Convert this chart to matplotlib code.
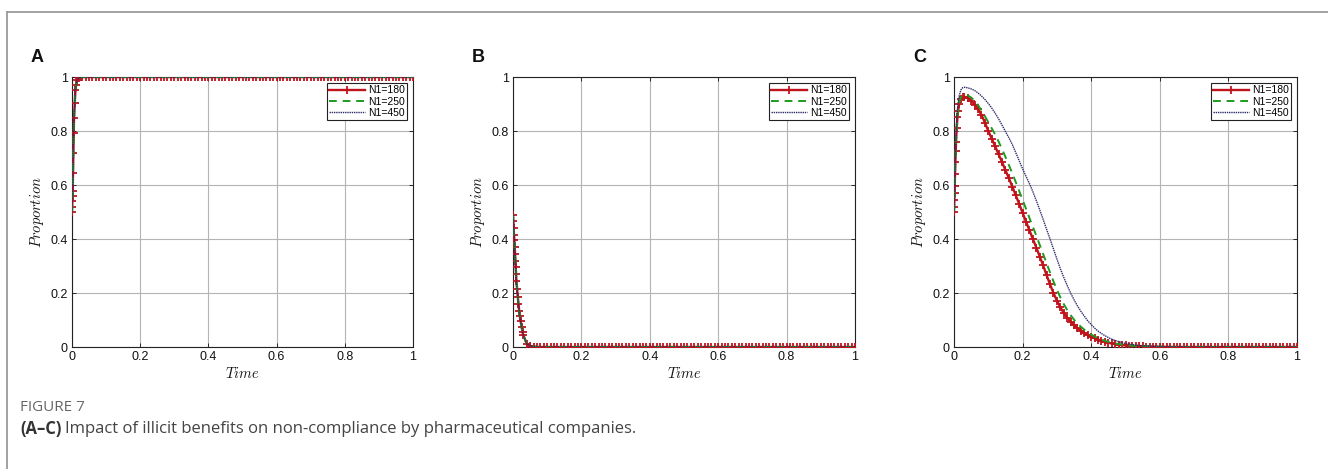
import matplotlib
matplotlib.use("Agg")
import matplotlib.pyplot as plt
from matplotlib.lines import Line2D

plt.rcParams['font.family'] = ['Liberation Sans', 'DejaVu Sans']
plt.rcParams['mathtext.fontset'] = 'cm'

# ---------------- data ----------------
series_labels = ["N1=180", "N1=250", "N1=450"]
panel_letters = ["A", "B", "C"]
ticks = [0, 0.2, 0.4, 0.6, 0.8, 1]
tick_labels = ["0", "0.2", "0.4", "0.6", "0.8", "1"]

tail_t = [0.04, 0.05, 0.06, 0.07, 0.08, 0.09, 0.10, 0.11, 0.12, 0.13, 0.14, 0.15, 0.16, 0.17, 0.18, 0.19,
          0.20, 0.21, 0.22, 0.23, 0.24, 0.25, 0.26, 0.27, 0.28, 0.29, 0.30, 0.31, 0.32, 0.33, 0.34, 0.35,
          0.36, 0.37, 0.38, 0.39, 0.40, 0.41, 0.42, 0.43, 0.44, 0.45, 0.46, 0.47, 0.48, 0.49, 0.50, 0.51,
          0.52, 0.53, 0.54, 0.55, 0.56, 0.57, 0.58, 0.59, 0.60, 0.61, 0.62, 0.63, 0.64, 0.65, 0.66, 0.67,
          0.68, 0.69, 0.70, 0.71, 0.72, 0.73, 0.74, 0.75, 0.76, 0.77, 0.78, 0.79, 0.80, 0.81, 0.82, 0.83,
          0.84, 0.85, 0.86, 0.87, 0.88, 0.89, 0.90, 0.91, 0.92, 0.93, 0.94, 0.95, 0.96, 0.97, 0.98, 0.99, 1.00]

# Panel A: time points and proportions (all three N1 values coincide)
time_A = [0, 0.0005, 0.001, 0.0015, 0.002, 0.003, 0.004, 0.005, 0.006, 0.008, 0.010, 0.012, 0.015,
          0.020, 0.025, 0.030] + tail_t
A_180 = [0.50, 0.52, 0.54, 0.56, 0.578, 0.644, 0.718, 0.792, 0.847, 0.902, 0.95, 0.97, 0.989,
         0.997, 0.999, 1.0] + [1.0] * 97
A_250 = list(A_180)
A_450 = list(A_180)

# Panel B
time_B = [0, 0.001, 0.002, 0.003, 0.004, 0.005, 0.006, 0.007, 0.008, 0.009, 0.010, 0.012, 0.014,
          0.016, 0.018, 0.020, 0.022, 0.025, 0.028, 0.030] + tail_t
B_180 = [0.49, 0.465, 0.44, 0.415, 0.395, 0.37, 0.345, 0.32, 0.295, 0.27, 0.245, 0.215, 0.185,
         0.16, 0.135, 0.115, 0.098, 0.075, 0.055, 0.045,
         0.012, 0.004, 0.0015, 0.0005] + [0.0] * 93
B_250 = list(B_180)
B_450 = list(B_180)

# Panel C
time_C = [0, 0.0005, 0.001, 0.0015, 0.002, 0.003, 0.004, 0.005, 0.006, 0.008, 0.010, 0.012, 0.015,
          0.020, 0.025, 0.030] + tail_t
C_180 = [0.50, 0.52, 0.545, 0.57, 0.595, 0.64, 0.685, 0.725, 0.76, 0.81, 0.85, 0.875, 0.90, 0.918, 0.926, 0.927,
         0.922, 0.912, 0.898, 0.88, 0.86, 0.831, 0.80, 0.772, 0.743, 0.714, 0.685, 0.655, 0.625, 0.594, 0.562,
         0.53, 0.497, 0.464, 0.432, 0.40, 0.368, 0.335, 0.302, 0.266, 0.232, 0.20, 0.172, 0.147, 0.126, 0.108,
         0.093, 0.080, 0.069, 0.059, 0.051, 0.044, 0.038, 0.032, 0.027, 0.023, 0.019, 0.016, 0.013, 0.011,
         0.009, 0.0075, 0.006, 0.005, 0.004, 0.0033, 0.0027, 0.0022, 0.0018, 0.0015, 0.0012, 0.001, 0.0008,
         0.0006, 0.0005, 0.0004, 0.0003, 0.0002] + [0.0] * 35
C_250 = [0.50, 0.52, 0.545, 0.57, 0.60, 0.645, 0.69, 0.73, 0.765, 0.815, 0.855, 0.88, 0.905, 0.925, 0.933, 0.935,
         0.932, 0.924, 0.912, 0.896, 0.876, 0.855, 0.832, 0.81, 0.787, 0.761, 0.733, 0.704, 0.674, 0.643, 0.611,
         0.578, 0.545, 0.512, 0.478, 0.445, 0.412, 0.378, 0.344, 0.31, 0.276, 0.243, 0.212, 0.184, 0.159, 0.137,
         0.118, 0.101, 0.087, 0.075, 0.064, 0.054, 0.046, 0.039, 0.033, 0.028, 0.023, 0.019, 0.016, 0.013,
         0.011, 0.009, 0.0075, 0.006, 0.005, 0.004, 0.0033, 0.0027, 0.0022, 0.0018, 0.0015, 0.0012, 0.001,
         0.0008, 0.0006, 0.0005, 0.0004, 0.0003] + [0.0] * 35
C_450 = [0.50, 0.522, 0.548, 0.575, 0.605, 0.655, 0.70, 0.745, 0.785, 0.84, 0.88, 0.905, 0.93, 0.952, 0.96, 0.962,
         0.96, 0.956, 0.95, 0.941, 0.93, 0.917, 0.902, 0.885, 0.866, 0.845, 0.822, 0.798, 0.775, 0.75, 0.72,
         0.69, 0.66, 0.632, 0.605, 0.575, 0.542, 0.508, 0.472, 0.436, 0.40, 0.363, 0.326, 0.29, 0.258, 0.228,
         0.20, 0.175, 0.152, 0.132, 0.114, 0.097, 0.083, 0.070, 0.059, 0.050, 0.042, 0.035, 0.029, 0.024,
         0.020, 0.016, 0.013, 0.011, 0.009, 0.0075, 0.006, 0.005, 0.004, 0.0033, 0.0027, 0.0022, 0.0018,
         0.0015, 0.0012, 0.001, 0.0008, 0.0006, 0.0005, 0.0004, 0.0003, 0.0002] + [0.0] * 31

panels = [
    (time_A, A_180, A_250, A_450),
    (time_B, B_180, B_250, B_450),
    (time_C, C_180, C_250, C_450),
]

# ---------------- style ----------------
RED = "#c0141c"
GREEN = "#1f9a1f"
NAVY = "#2b2b6b"

fig = plt.figure(figsize=(13.28, 4.69), dpi=100)
W, H = 1328.0, 469.0

# thin frame around the figure (top and left visible)
fig.add_artist(Line2D([7 / W, 7 / W], [0, 1 - 12 / H], color="#9a9a9a", lw=1.3, transform=fig.transFigure))
fig.add_artist(Line2D([7 / W, 1], [1 - 12 / H, 1 - 12 / H], color="#9a9a9a", lw=1.3, transform=fig.transFigure))

axes_left = [72, 513, 954]
axes_width = [341, 342, 343]
letter_x = [31, 472, 913]
ax_top, ax_bottom = 77, 347

for i, (tt, s1, s2, s3) in enumerate(panels):
    ax = fig.add_axes([axes_left[i] / W, (H - ax_bottom) / H, axes_width[i] / W, (ax_bottom - ax_top) / H])
    l1, = ax.plot(tt, s1, color=RED, lw=1.7, marker="+", markersize=5.2, markeredgewidth=1.3,
                  label=series_labels[0], zorder=3)
    l2, = ax.plot(tt, s2, color=GREEN, lw=1.4, ls=(0, (4, 3)), label=series_labels[1], zorder=4)
    l3, = ax.plot(tt, s3, color=NAVY, lw=1.0, ls=(0, (1, 0.6)), label=series_labels[2], zorder=5)
    ax.set_xlim(0, 1)
    ax.set_ylim(0, 1)
    ax.set_xticks(ticks)
    ax.set_xticklabels(tick_labels)
    ax.set_yticks(ticks)
    ax.set_yticklabels(tick_labels)
    ax.tick_params(direction="in", length=3, width=0.6, labelsize=9, colors="#111111", pad=3,
                   top=True, right=True)
    ax.grid(True, color="#b4b4b4", lw=0.8)
    ax.set_axisbelow(True)
    for sp in ax.spines.values():
        sp.set_color("#222222")
        sp.set_linewidth(0.8)
    ax.set_xlabel(r"$Time$", fontsize=10.5, labelpad=2, color="#111111")
    ax.set_ylabel(r"$Proportion$", fontsize=10.5, labelpad=3, color="#111111")
    leg = ax.legend(loc="upper right", fontsize=7.5, frameon=True, fancybox=False, framealpha=1,
                    edgecolor="#222222", handlelength=3.4, handletextpad=0.3, borderpad=0.25,
                    labelspacing=0.12, borderaxespad=0.55)
    leg.get_frame().set_linewidth(0.8)
    fig.text(letter_x[i] / W, 1 - 58 / H, panel_letters[i], fontsize=13, fontweight="bold",
             ha="left", va="center", color="#111111")

fig.text(20 / W, 1 - 407 / H, "FIGURE 7", fontsize=11, color="#666666", family="Open Sans",
         ha="left", va="center")
fig.text(20 / W, 1 - 429 / H, "(A\u2013C)", fontsize=12, color="#333333", family="Open Sans",
         fontweight="bold", ha="left", va="center")
fig.text(65 / W, 1 - 429 / H, "Impact of illicit benefits on non-compliance by pharmaceutical companies.",
         fontsize=12, color="#444444", family="Open Sans", ha="left", va="center")

fig.savefig("out.png", dpi=100)
